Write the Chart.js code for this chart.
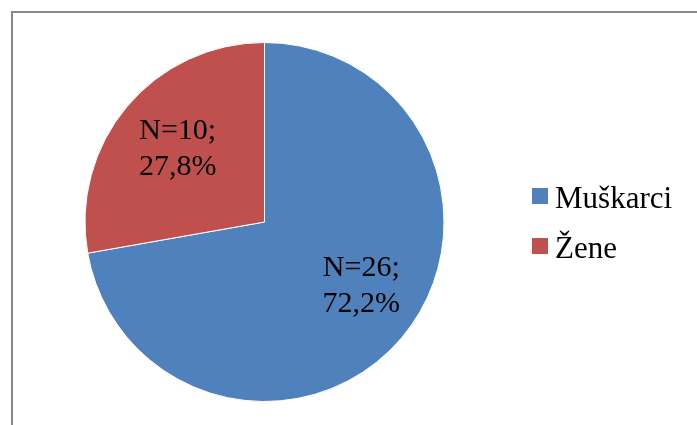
<!DOCTYPE html>
<html>
<head>
<meta charset="utf-8">
<script src="https://cdn.jsdelivr.net/npm/chart.js@4/dist/chart.umd.min.js"></script>
<style>
html,body{margin:0;padding:0;background:#fff;}
#wrap{width:697px;height:425px;position:relative;}
</style>
</head>
<body>
<div id="wrap"><canvas id="c" width="697" height="425"></canvas></div>
<script>
const categories = ["Muškarci", "Žene"];
const counts = [26, 10];
const percentLabels = ["72,2%", "27,8%"];
const colors = ["#4F81BD", "#C0504D"];

const FONT = '"Liberation Serif", "Times New Roman", serif';

const framePlugin = {
  id: 'frame',
  beforeDraw(chart) {
    const ctx = chart.ctx;
    ctx.save();
    ctx.fillStyle = '#fff';
    ctx.fillRect(0, 0, chart.width, chart.height);
    ctx.strokeStyle = '#888888';
    ctx.lineWidth = 2;
    ctx.strokeRect(12, 12, chart.width + 20, chart.height + 20);
    ctx.restore();
  }
};

const labelOffsets = [[28, 6], [-18, -15]];

const dataLabelPlugin = {
  id: 'dataLabels',
  afterDatasetsDraw(chart) {
    const ctx = chart.ctx;
    const meta = chart.getDatasetMeta(0);
    ctx.save();
    ctx.font = '30px ' + FONT;
    ctx.fillStyle = '#000';
    ctx.textAlign = 'center';
    ctx.textBaseline = 'middle';
    meta.data.forEach((arc, i) => {
      const p = arc.tooltipPosition();
      const x = p.x + labelOffsets[i][0];
      const y = p.y + labelOffsets[i][1];
      ctx.fillText('N=' + chart.data.datasets[0].data[i] + ';', x, y - 18);
      ctx.fillText(percentLabels[i], x, y + 18);
    });
    ctx.restore();
  }
};

const legendPlugin = {
  id: 'customLegend',
  afterDraw(chart) {
    const ctx = chart.ctx;
    ctx.save();
    ctx.font = '31px ' + FONT;
    ctx.textAlign = 'left';
    ctx.textBaseline = 'alphabetic';
    chart.data.labels.forEach((lab, i) => {
      const top = 188 + i * 50;
      ctx.fillStyle = chart.data.datasets[0].backgroundColor[i];
      ctx.fillRect(532, top, 16, 16);
      ctx.fillStyle = '#000';
      ctx.fillText(lab, 555, top + 20);
    });
    ctx.restore();
  }
};

new Chart(document.getElementById('c'), {
  type: 'pie',
  data: {
    labels: categories,
    datasets: [{
      data: counts,
      backgroundColor: colors,
      borderColor: '#ffffff',
      borderWidth: 1
    }]
  },
  options: {
    responsive: false,
    animation: false,
    layout: { padding: { left: 84, right: 252, top: 42, bottom: 23 } },
    plugins: {
      legend: { display: false },
      tooltip: { enabled: false }
    }
  },
  plugins: [framePlugin, dataLabelPlugin, legendPlugin]
});
</script>
</body>
</html>
